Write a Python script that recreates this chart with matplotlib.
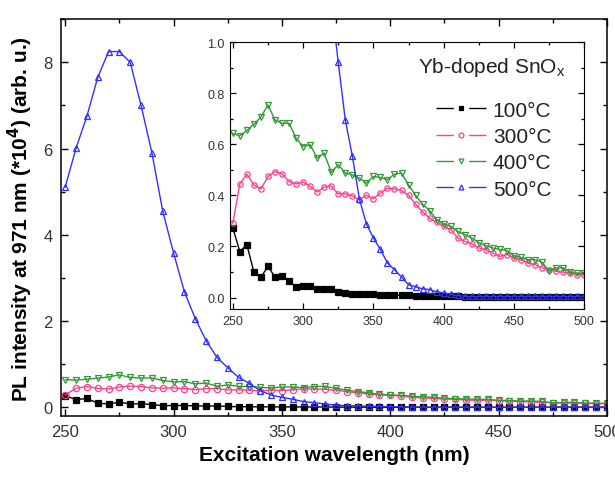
import matplotlib
matplotlib.use("Agg")
import matplotlib.pyplot as plt
from matplotlib.lines import Line2D
from matplotlib.legend_handler import HandlerTuple
from matplotlib.ticker import MultipleLocator

plt.rcParams['font.family'] = ['Liberation Sans', 'DejaVu Sans']

# excitation wavelength, 5 nm steps
wl = list(range(250, 505, 5))

# PL intensity at 971 nm (*10^4)
s100 = [0.272, 0.180, 0.207, 0.099, 0.079, 0.122, 0.080, 0.086, 0.066, 0.040,
        0.044, 0.044, 0.034, 0.032, 0.034, 0.021, 0.016, 0.015, 0.013, 0.012,
        0.012, 0.011, 0.010, 0.010, 0.009, 0.008, 0.006, 0.006, 0.005, 0.005,
        0.004, 0.004, 0.004, 0.003, 0.003, 0.003, 0.003, 0.003, 0.003, 0.002,
        0.002, 0.002, 0.002, 0.002, 0.002, 0.002, 0.002, 0.002, 0.002, 0.002,
        0.002]
s300 = [0.290, 0.445, 0.483, 0.441, 0.425, 0.474, 0.493, 0.484, 0.454, 0.445,
        0.452, 0.435, 0.413, 0.432, 0.437, 0.406, 0.406, 0.398, 0.383, 0.400,
        0.387, 0.409, 0.428, 0.425, 0.419, 0.400, 0.365, 0.335, 0.311, 0.294,
        0.279, 0.266, 0.233, 0.220, 0.210, 0.194, 0.187, 0.174, 0.161, 0.168,
        0.155, 0.148, 0.135, 0.129, 0.116, 0.109, 0.103, 0.099, 0.096, 0.090,
        0.090]
s400 = [0.643, 0.633, 0.654, 0.678, 0.706, 0.754, 0.695, 0.682, 0.682, 0.624,
        0.591, 0.598, 0.546, 0.565, 0.490, 0.520, 0.487, 0.480, 0.467, 0.448,
        0.474, 0.470, 0.461, 0.483, 0.487, 0.441, 0.400, 0.365, 0.340, 0.305,
        0.288, 0.279, 0.259, 0.246, 0.233, 0.214, 0.203, 0.194, 0.188, 0.184,
        0.164, 0.157, 0.148, 0.148, 0.138, 0.103, 0.116, 0.116, 0.099, 0.094,
        0.095]
s500 = [5.11, 6.01, 6.75, 7.65, 8.25, 8.25, 8.00, 7.00, 5.90, 4.55,
        3.58, 2.68, 2.06, 1.55, 1.16, 0.92, 0.695, 0.555, 0.387, 0.288,
        0.233, 0.188, 0.135, 0.109, 0.080, 0.050, 0.042, 0.034, 0.031, 0.022,
        0.018, 0.012, 0.008, 0.005, 0.004, 0.004, 0.005, 0.004, 0.005, 0.004,
        0.005, 0.005, 0.004, 0.005, 0.005, 0.004, 0.005, 0.005, 0.004, 0.005,
        0.005]

series = [
    ("100°C", s100, 'black', 's', 'black'),
    ("300°C", s300, '#ff3f8f', 'o', 'none'),
    ("400°C", s400, '#339933', 'v', 'none'),
    ("500°C", s500, '#3030ff', '^', 'none'),
]

fig = plt.figure(figsize=(6.15, 4.81), dpi=100)
ax = fig.add_axes([0.099, 0.133, 0.888, 0.825])

for lab, y, c, m, fc in series:
    ax.plot(wl, y, color=c, lw=1, marker=m, ms=4.5, mfc=fc, mec=c, mew=0.9)

ax.set_xlim(248, 500)
ax.set_ylim(-0.2, 9)
ax.xaxis.set_major_locator(MultipleLocator(50))
ax.xaxis.set_minor_locator(MultipleLocator(25))
ax.yaxis.set_major_locator(MultipleLocator(2))
ax.yaxis.set_minor_locator(MultipleLocator(1))
ax.tick_params(which='both', direction='in', top=True, right=True,
               labelsize=12, labelcolor='#333333', width=1)
ax.tick_params(which='major', length=5, pad=6)
ax.tick_params(which='minor', length=3)
for sp in ax.spines.values():
    sp.set_linewidth(1.1)
ax.set_xlabel("Excitation wavelength (nm)", fontsize=15, fontweight='bold',
              labelpad=4)
ax.set_ylabel("PL intensity at 971 nm (*10$^{\\mathbf{4}}$) (arb. u.)",
              fontsize=15, fontweight='bold', labelpad=6)

# inset
axin = fig.add_axes([0.374, 0.3555, 0.576, 0.555])
for lab, y, c, m, fc in series:
    axin.plot(wl, y, color=c, lw=1, marker=m, ms=3.8, mfc=fc, mec=c, mew=0.9)
axin.set_xlim(248, 500)
axin.set_ylim(-0.045, 1.0)
axin.xaxis.set_major_locator(MultipleLocator(50))
axin.xaxis.set_minor_locator(MultipleLocator(25))
axin.yaxis.set_major_locator(MultipleLocator(0.2))
axin.yaxis.set_minor_locator(MultipleLocator(0.1))
axin.yaxis.set_major_formatter(plt.FormatStrFormatter('%.1f'))
axin.tick_params(which='both', direction='in', top=True, right=True,
                 labelsize=9, labelcolor='#333333', width=0.9)
axin.tick_params(which='major', length=4, pad=4)
axin.tick_params(which='minor', length=2.5)

axin.text(0.946, 0.888, "Yb-doped SnO$_{\\mathregular{x}}$", transform=axin.transAxes,
          ha='right', va='baseline', fontsize=15, color='#222222')

# origin-style legend handles: line - marker - line
handles = []
for lab, y, c, m, fc in series:
    ln = Line2D([], [], color=c, lw=1, ls=(0, (12.5, 11)))
    mk = Line2D([], [], color=c, ls='none', marker=m, ms=3.5, mfc=fc, mec=c, mew=0.9)
    handles.append((ln, mk))
leg = axin.legend(handles, [s[0] for s in series],
                  handler_map={tuple: HandlerTuple(ndivide=1, pad=0)},
                  frameon=False, fontsize=15, handlelength=2.4,
                  handletextpad=0.35, labelspacing=0.35,
                  borderpad=0, borderaxespad=0,
                  loc='upper right', bbox_to_anchor=(0.907, 0.78))
for t in leg.get_texts():
    t.set_color('#222222')

fig.savefig("out.png", dpi=100)
